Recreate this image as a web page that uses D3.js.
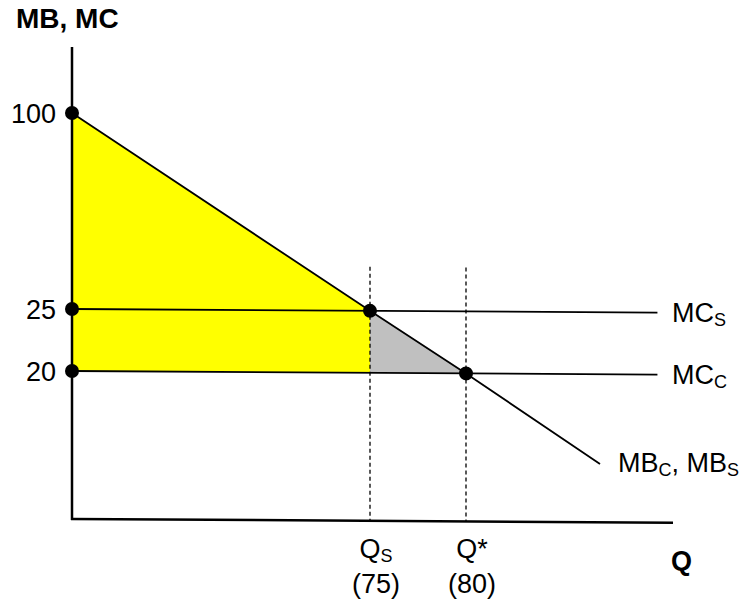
<!DOCTYPE html>
<html>
<head>
<meta charset="utf-8">
<script src="https://cdn.jsdelivr.net/npm/d3@7"></script>
<style>
  html, body { margin: 0; padding: 0; background: #fff; }
  svg { display: block; font-family: "Liberation Sans", Arial, sans-serif; }
</style>
</head>
<body>
<svg id="chart" width="745" height="609"></svg>
<script>
// ---- data ----
const mbQ = [0, 75, 80, 87];          // quantity along MB line
const mbV = [100, 25, 20, 13];        // marginal benefit values
const mcS = 25;                       // social marginal cost
const mcC = 20;                       // private marginal cost
const mcRange = [0, 90];              // extent of MC lines
const qS = 75, qStar = 80;
const yTickValues = [100, 25, 20];
const yTickLabels = ["100", "25", "20"];
const qLabels = [{q: qS, name: "Q", sub: "S", val: "(75)"}, {q: qStar, name: "Q*", sub: "", val: "(80)"}];

// ---- scales (schematic, piecewise) ----
const x = d3.scaleLinear().domain([0, 75, 80, 87]).range([72, 370, 466, 600]);
const y = d3.scaleLinear().domain([100, 25, 20, 13]).range([113, 309, 371, 460.8]);

const axisX0 = 72, axisY0 = 519, axisTop = 47, axisRight = 673;

const svg = d3.select("#chart");
const g = svg.append("g").attr("transform", `translate(${axisX0},0) skewY(0.35) translate(${-axisX0},0)`);

const pts = mbQ.map((q, i) => [q, mbV[i]]);
const mbAt = q => d3.scaleLinear().domain(mbQ).range(mbV)(q);

// yellow region
const yellow = [[0, mbV[0]], [qS, mbAt(qS)], [qS, mcC], [0, mcC]];
g.append("path")
  .attr("d", d3.line().x(d => x(d[0])).y(d => y(d[1]))(yellow) + "Z")
  .attr("fill", "#FFFF00");

// gray deadweight triangle
const gray = [[qS, mcS], [qStar, mcC], [qS, mcC]];
g.append("path")
  .attr("d", d3.line().x(d => x(d[0])).y(d => y(d[1]))(gray) + "Z")
  .attr("fill", "#C0C0C0");

// dashed verticals
[qS, qStar].forEach(q => {
  g.append("line")
    .attr("x1", x(q)).attr("x2", x(q))
    .attr("y1", 265).attr("y2", axisY0)
    .attr("stroke", "#000").attr("stroke-width", 1.3)
    .attr("stroke-dasharray", "4,3");
});

// MC lines
[mcS, mcC].forEach(v => {
  g.append("line")
    .attr("x1", x(mcRange[0])).attr("x2", x(mcRange[1]))
    .attr("y1", y(v)).attr("y2", y(v))
    .attr("stroke", "#000").attr("stroke-width", 1.8);
});

// MB line
g.append("path")
  .attr("d", d3.line().x(d => x(d[0])).y(d => y(d[1]))(pts))
  .attr("fill", "none").attr("stroke", "#000").attr("stroke-width", 1.8);

// axes
g.append("line").attr("x1", axisX0).attr("x2", axisX0).attr("y1", axisTop).attr("y2", axisY0 + 1)
  .attr("stroke", "#000").attr("stroke-width", 2.5);
g.append("line").attr("x1", axisX0 - 1).attr("x2", axisRight).attr("y1", axisY0).attr("y2", axisY0)
  .attr("stroke", "#000").attr("stroke-width", 2.5);

// dots
const dots = [[0, 100], [0, mcS], [0, mcC], [qS, mcS], [qStar, mcC]];
g.selectAll("circle.dot").data(dots).enter().append("circle")
  .attr("class", "dot")
  .attr("cx", d => x(d[0])).attr("cy", d => y(d[1])).attr("r", 7)
  .attr("fill", "#000");

// ---- text ----
svg.append("text").attr("x", 16).attr("y", 28)
  .attr("font-size", 28).attr("font-weight", "bold").text("MB, MC");

svg.selectAll("text.ytick").data(yTickValues).enter().append("text")
  .attr("class", "ytick")
  .attr("x", 56).attr("y", d => y(d) + 10)
  .attr("text-anchor", "end").attr("font-size", 27)
  .text((d, i) => yTickLabels[i]);

function subLabel(xp, yp, main, sub, anchor) {
  const t = svg.append("text").attr("x", xp).attr("y", yp)
    .attr("font-size", 27).attr("text-anchor", anchor || "start");
  t.append("tspan").text(main);
  if (sub) t.append("tspan").attr("font-size", 18).attr("dy", 4).text(sub);
  return t;
}

subLabel(672, 322, "MC", "S");
subLabel(672, 384, "MC", "C");
const mbl = svg.append("text").attr("x", 618).attr("y", 472).attr("font-size", 27);
mbl.append("tspan").text("MB");
mbl.append("tspan").attr("font-size", 18).attr("dy", 4).text("C");
mbl.append("tspan").attr("dy", -4).text(", MB");
mbl.append("tspan").attr("font-size", 18).attr("dy", 4).text("S");

qLabels.forEach(d => {
  subLabel(x(d.q) + 6, 558, d.name, d.sub, "middle");
  svg.append("text").attr("x", x(d.q) + 6).attr("y", 593)
    .attr("text-anchor", "middle").attr("font-size", 27).text(d.val);
});

svg.append("text").attr("x", 671).attr("y", 570)
  .attr("font-size", 27).attr("font-weight", "bold").text("Q");
</script>
</body>
</html>
